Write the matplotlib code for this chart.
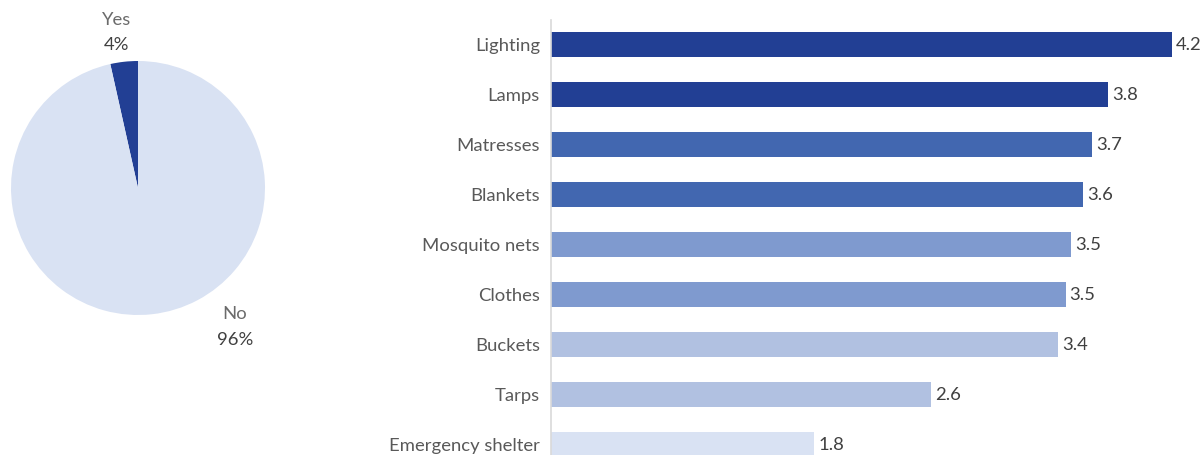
import matplotlib
matplotlib.use("Agg")
import matplotlib.pyplot as plt

plt.rcParams['font.family'] = ['Lato', 'DejaVu Sans']

# pie data
pie_labels = ['Yes', 'No']
pie_share = [3.5, 96.5]
pie_text = ['4%', '96%']
pie_colors = ['#223F94', '#D9E2F3']

# bar data (top to bottom)
items = ['Lighting', 'Lamps', 'Matresses', 'Blankets', 'Mosquito nets',
         'Clothes', 'Buckets', 'Tarps', 'Emergency shelter']
scores = [4.2, 3.77, 3.66, 3.60, 3.52, 3.48, 3.43, 2.57, 1.78]
bar_colors = ['#223F94', '#223F94', '#4267B0', '#4267B0', '#7F9ACF',
              '#7F9ACF', '#B1C1E1', '#B1C1E1', '#D9E2F3']

W, H = 1203, 455
fig = plt.figure(figsize=(W / 100, H / 100), dpi=100)

# ---- pie ----
r_px = 127
cx, cy = 138, 188
box = 300
axp = fig.add_axes([(cx - box / 2) / W, (H - cy - box / 2) / H, box / W, box / H])
axp.pie(pie_share, colors=pie_colors, startangle=90, counterclock=True,
        wedgeprops=dict(linewidth=0))
lim = box / 2 / r_px
axp.set_xlim(-lim, lim)
axp.set_ylim(-lim, lim)
axp.set_aspect('equal')
axp.axis('off')

label_pos = [(-0.165, 1.225), (0.764, -1.095)]
for lab, t, (x, y) in zip(pie_labels, pie_text, label_pos):
    axp.text(x, y + 0.1, lab, ha='center', va='center', fontsize=13.3, color='#6b6b6b')
    axp.text(x, y - 0.1, t, ha='center', va='center', fontsize=13.3, color='#404040')

# ---- bars ----
x0 = 551
px_per_unit = (1172 - x0) / 4.2
top = 20
axb = fig.add_axes([x0 / W, 0, (W - x0) / W, (H - top) / H])
ypos = list(range(len(items)))
axb.barh(ypos, scores, height=0.5, color=bar_colors)
axb.set_xlim(0, (W - x0) / px_per_unit)
axb.set_ylim(8 + 10.5 / 50, -24.5 / 50)
axb.set_yticks(ypos)
axb.set_yticklabels(items, fontsize=13.3, color='#595959')
axb.tick_params(axis='y', length=0, pad=8)
axb.set_xticks([])
for s in ['top', 'right', 'bottom']:
    axb.spines[s].set_visible(False)
axb.spines['left'].set_color('#D9D9D9')
axb.spines['left'].set_linewidth(1.2)

for y, v in zip(ypos, scores):
    axb.annotate('%.1f' % v, (v, y), xytext=(3, 0), textcoords='offset points',
                 ha='left', va='center', fontsize=13.3, color='#404040',
                 annotation_clip=False)

fig.savefig('out.png', dpi=100)
